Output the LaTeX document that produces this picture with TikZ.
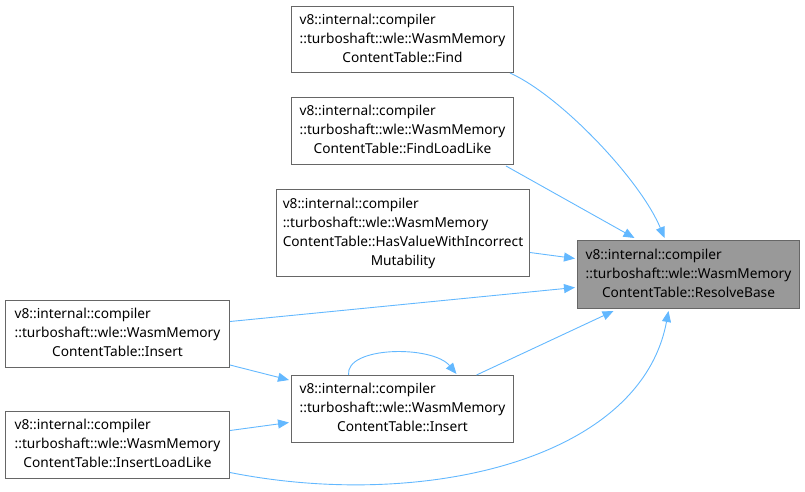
\documentclass[tikz,border=0pt]{standalone}
\usepackage{fontspec}
\setmainfont{Noto Sans}
\usetikzlibrary{arrows.meta,calc}
\definecolor{edgeblue}{HTML}{63B8FF}
\definecolor{boxline}{HTML}{666666}
\definecolor{hlfill}{HTML}{999999}
\newcommand{\fn}[3]{\begin{tabular}{@{}l@{}}#1\\#2\\\multicolumn{1}{@{}c@{}}{#3}\end{tabular}}
\newcommand{\fnf}[4]{\begin{tabular}{@{}l@{}}#1\\#2\\#3\\\multicolumn{1}{@{}c@{}}{#4}\end{tabular}}
\begin{document}
\begin{tikzpicture}[x=1pt,y=-1pt,
  fbox/.style={draw=boxline,line width=1pt,fill=white,inner sep=0pt,anchor=north west,
    font=\fontsize{13.7pt}{19pt}\selectfont,text=black},
  edge/.style={draw=edgeblue,line width=0.9pt,-{Triangle[length=11pt,width=9pt]}}]
\useasboundingbox (0,0) rectangle (805,491);
\node[fbox,minimum width=222pt,minimum height=66pt] (find) at (291,6)
  {\fn{v8::internal::compiler}{::turboshaft::wle::WasmMemory}{ContentTable::Find}};
\node[fbox,minimum width=222pt,minimum height=67pt] (findll) at (291,97)
  {\fn{v8::internal::compiler}{::turboshaft::wle::WasmMemory}{ContentTable::FindLoadLike}};
\node[fbox,minimum width=253pt,minimum height=87pt] (hasval) at (276,189)
  {\fnf{v8::internal::compiler}{::turboshaft::wle::WasmMemory}{ContentTable::HasValueWithIncorrect}{Mutability}};
\node[fbox,fill=hlfill,minimum width=222pt,minimum height=68pt] (resolve) at (577,240)
  {\fn{v8::internal::compiler}{::turboshaft::wle::WasmMemory}{ContentTable::ResolveBase}};
\node[fbox,minimum width=224pt,minimum height=67pt] (insL) at (5,300)
  {\fn{v8::internal::compiler}{::turboshaft::wle::WasmMemory}{ContentTable::Insert}};
\node[fbox,minimum width=222pt,minimum height=67pt] (insM) at (291,375)
  {\fn{v8::internal::compiler}{::turboshaft::wle::WasmMemory}{ContentTable::Insert}};
\node[fbox,minimum width=224pt,minimum height=67pt] (insLL) at (5,411)
  {\fn{v8::internal::compiler}{::turboshaft::wle::WasmMemory}{ContentTable::InsertLoadLike}};
% edges
\draw[edge] ($(find.south east)+(-4,0)$) .. controls +(51,23) and +(-24,-58) .. ($(resolve.north)+(-24,-2)$);
\draw[edge] ($(findll.south east)+(-8,1)$) -- ($(resolve.north)+(-54,-2)$);
\draw[edge] ($(hasval.east)+(0,19.5)$) -- ($(resolve.west)+(-2,-16)$);
\draw[edge] ($(insL.east)+(0,-12.5)$) -- ($(resolve.west)+(-2,13)$);
\draw[edge] ($(insM.north)+(74,0)$) -- ($(resolve.south)+(-75,2)$);
\draw[edge] ($(insLL.east)+(0,27.5)$) .. controls +(191,38) and +(-28,150) .. ($(resolve.south)+(-20,2)$);
\draw[edge] ($(insL.south east)+(0,-3)$) -- ($(insM.north west)+(-2,5)$);
\draw[edge] ($(insLL.east)+(0,-14.5)$) -- ($(insM.west)+(-2,13.5)$);
\draw[edge] ($(insM.north)+(-54,0)$) .. controls +(-3,-29) and +(-24,-29) .. ($(insM.north)+(54,-1)$);
\end{tikzpicture}
\end{document}
